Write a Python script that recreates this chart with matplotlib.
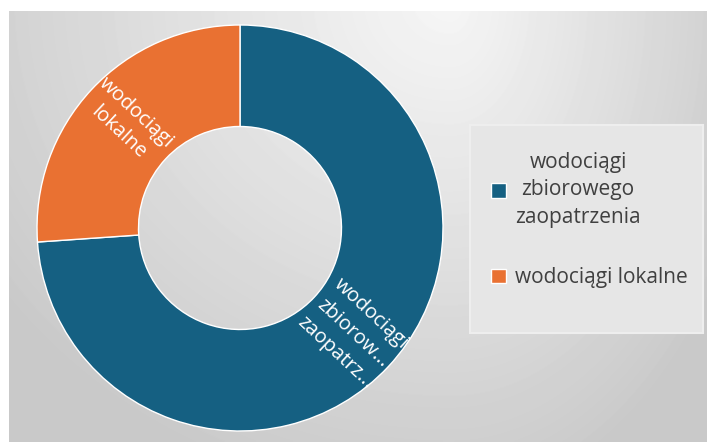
import numpy as np
import matplotlib
matplotlib.use('Agg')
import matplotlib.pyplot as plt
from matplotlib.patches import Patch, Rectangle

# data
categories = ['wodociągi zbiorowego zaopatrzenia', 'wodociągi lokalne']
shares = [73.9, 26.1]
slice_labels = ['wodociągi\nzbiorow…\nzaopatrz…', 'wodociągi\nlokalne']
legend_labels = ['wodociągi\nzbiorowego\nzaopatrzenia', 'wodociągi lokalne']
colors = ['#156082', '#E97132']

plt.rcParams['font.family'] = ['Open Sans', 'DejaVu Sans']

W, H = 707, 442
fig = plt.figure(figsize=(W / 100, H / 100), dpi=100)

# gray gradient backdrop (chart area starts a few px in from top/left)
bg = fig.add_axes([9 / W, 0, 1 - 9 / W, 1 - 11 / H])
yy, xx = np.mgrid[11:H, 9:W]
dx = xx - 450.0
rx = np.where(dx < 0, 550.0, 320.0)
d = np.sqrt((dx / rx) ** 2 + (yy / 500.0) ** 2)
shade = 246 - 44 * np.clip(d, 0, 1)
bg.imshow(shade, cmap='gray', vmin=0, vmax=255, aspect='auto', interpolation='bilinear')
bg.axis('off')

# donut
ax = fig.add_axes([37 / W, 11 / H, 406 / W, 406 / H])
ax.patch.set_alpha(0)
wedges, _ = ax.pie(shares, colors=colors, startangle=90, counterclock=False, radius=1,
                   wedgeprops=dict(width=0.5, edgecolor='white', linewidth=1.0))
ax.set_xlim(-1, 1)
ax.set_ylim(-1, 1)
ax.axis('off')

for w, lab in zip(wedges, slice_labels):
    mid = (w.theta1 + w.theta2) / 2
    r = 0.76
    x = r * np.cos(np.radians(mid))
    y = r * np.sin(np.radians(mid))
    rot = mid if np.cos(np.radians(mid)) >= 0 else mid - 180
    ax.text(x, y, lab, ha='center', va='center', rotation=rot, rotation_mode='anchor',
            color='white', fontsize=14.5, linespacing=1.4, multialignment='center')

# legend box
fig.add_artist(Rectangle((470 / W, 1 - 333 / H), 233 / W, 208 / H, transform=fig.transFigure,
                         facecolor='#E6E6E6', edgecolor='#EEEEEE', lw=1.5, zorder=1))
handles = [Patch(facecolor=c, edgecolor='white', lw=1) for c in colors]
leg = fig.legend(handles, legend_labels, loc='center left', bbox_to_anchor=(481 / W, 1 - 220 / H),
                 frameon=False, fontsize=15, handlelength=0.7, handleheight=0.7,
                 handletextpad=0.45, labelspacing=1.9, borderpad=0)
leg.set_zorder(5)
for t in leg.get_texts():
    t.set_multialignment('center')
    t.set_linespacing(1.4)
    t.set_color('#404040')

fig.savefig('out.png', dpi=100, facecolor='white')
